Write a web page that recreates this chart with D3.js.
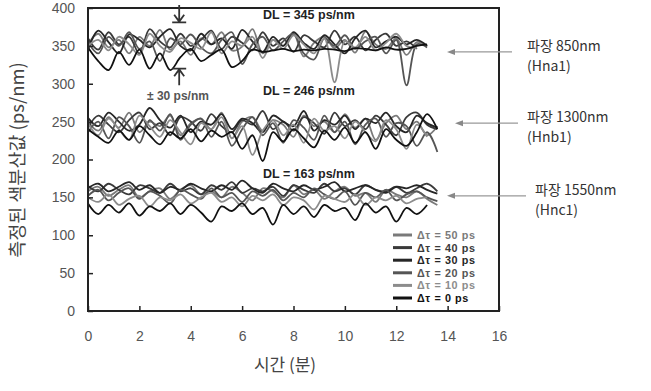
<!DOCTYPE html>
<html>
<head>
<meta charset="utf-8">
<script src="https://cdn.jsdelivr.net/npm/d3@7"></script>
<style>
  body { margin: 0; background: #fff; }
  svg { display: block; }
  .tick text { font-family: "Liberation Sans", Arial, sans-serif; font-size: 14px; fill: #555; }
  .kr { font-family: "Noto Sans CJK KR", sans-serif; }
</style>
</head>
<body>
<div id="chart"></div>
<script>
// time axis (minutes) for each band
const timeA = [0,0.4,0.8,1.2,1.6,2,2.4,2.8,3.2,3.6,4,4.4,4.8,5.2,5.6,6,6.4,6.8,7.2,7.6,8,8.4,8.8,9.2,9.6,10,10.4,10.8,11.2,11.6,12,12.4,12.8,13.2];
const timeB = [0,0.4,0.8,1.2,1.6,2,2.4,2.8,3.2,3.6,4,4.4,4.8,5.2,5.6,6,6.4,6.8,7.2,7.6,8,8.4,8.8,9.2,9.6,10,10.4,10.8,11.2,11.6,12,12.4,12.8,13.2,13.6];
const timeC = timeB;

const legendLabels = ["Δτ = 50 ps", "Δτ = 40 ps", "Δτ = 30 ps", "Δτ = 20 ps", "Δτ = 10 ps", "Δτ = 0 ps"];
const seriesColors = ["#7a7a7a", "#3a3a3a", "#262626", "#555555", "#8c8c8c", "#111111"];

// 850 nm (Hna1), DL = 345 ps/nm
const hna50 = [352,366,348,358,340,362,350,371,345,356,338,360,352,368,344,349,372,340,358,350,366,336,354,362,347,358,341,369,352,346,360,338,355,350];
const hna40 = [360,345,368,352,362,340,372,356,348,366,350,358,370,346,362,354,344,368,350,360,342,364,356,348,370,352,362,344,358,366,350,356,346];
const hna30 = [345,370,355,340,365,358,348,362,372,350,344,366,352,360,346,371,356,342,362,350,368,354,346,364,352,340,360,370,348,356,362,352,358,350];
const hna20 = [355,340,362,350,368,346,356,330,360,352,365,348,340,358,368,326,352,362,344,356,366,340,332,360,350,364,346,356,362,340,358,298,352,348];
const hna10 = [350,358,344,362,352,338,366,350,342,360,354,346,368,340,356,350,362,334,358,346,364,352,340,360,302,356,348,362,344,354,366,350,347];
const hna0  = [348,330,318,342,325,345,320,340,318,335,346,330,338,345,322,330,345,342,344,346,343,345,344,346,345,343,347,346,344,348,345,346,350,352];

// 1300 nm (Hnb1), DL = 246 ps/nm
const hnb50 = [250,238,256,242,262,236,250,244,258,232,248,254,240,262,228,250,256,238,252,246,230,258,244,250,236,260,242,254,226,248,258,240,250,232,244];
const hnb40 = [242,258,246,236,252,262,240,248,232,256,250,238,260,244,236,252,246,264,240,250,238,256,248,234,262,244,252,240,258,246,232,256,262,246,240];
const hnb30 = [255,244,262,250,238,246,268,252,242,258,236,250,246,260,240,254,248,236,258,250,244,264,238,252,246,258,240,254,248,262,244,236,258,248,242];
const hnb20 = [236,250,228,256,244,222,252,238,260,226,246,254,230,250,218,240,256,232,248,222,252,242,226,258,236,250,220,246,254,230,248,244,218,236,210];
const hnb10 = [248,232,254,240,226,258,244,230,252,236,220,248,240,256,228,244,206,238,252,232,246,222,254,238,244,228,250,236,224,252,240,214,246,230];
const hnb0  = [240,230,222,238,226,244,232,220,236,228,240,224,238,230,236,214,232,198,236,224,240,228,216,238,226,242,222,236,214,240,226,218,236,260,240];

// 1550 nm (Hnc1), DL = 163 ps/nm
const hnc50 = [158,164,152,160,166,150,158,162,148,160,166,154,158,150,164,156,146,162,158,150,166,154,160,148,158,164,152,156,144,160,154,150,158,148,140];
const hnc40 = [165,158,168,160,154,166,162,156,168,158,162,154,166,160,170,156,162,158,164,152,166,160,156,168,158,162,154,166,160,158,164,156,162,168,158];
const hnc30 = [162,168,158,164,170,160,166,156,164,160,168,162,158,166,160,172,162,156,168,162,158,166,160,164,170,158,162,166,160,156,164,162,166,160,155];
const hnc20 = [152,160,146,156,162,148,158,152,142,160,154,148,162,150,156,144,158,152,160,146,156,150,162,154,148,158,140,156,150,160,146,154,158,150,145];
const hnc10 = [150,144,154,140,148,152,138,150,146,154,142,150,156,144,150,138,152,146,154,140,150,146,134,152,148,144,154,140,150,146,152,142,148,150];
const hnc0  = [142,128,140,130,142,126,138,132,142,128,140,130,118,138,132,142,128,136,114,140,128,138,124,140,132,136,120,142,130,138,118,136,128,140];

const bands = [
  { time: timeA, series: [hna50, hna40, hna30, hna20, hna10, hna0] },
  { time: timeB, series: [hnb50, hnb40, hnb30, hnb20, hnb10, hnb0] },
  { time: timeC, series: [hnc50, hnc40, hnc30, hnc20, hnc10, hnc0] }
];

const dlLabels = [
  { text: "DL = 345 ps/nm", y: 385 },
  { text: "DL = 246 ps/nm", y: 285 },
  { text: "DL = 163 ps/nm", y: 176 }
];
const waveLabels = [
  { name: "파장 850nm", code: "(Hna1)", y: 342, dx: 0 },
  { name: "파장 1300nm", code: "(Hnb1)", y: 248, dx: 0 },
  { name: "파장 1550nm", code: "(Hnc1)", y: 152, dx: 8 }
];

const W = 651, H = 391;
const margin = { left: 88, right: 152, top: 8, bottom: 80 };

const svg = d3.select("#chart").append("svg")
  .attr("width", W).attr("height", H);

const x = d3.scaleLinear().domain([0, 16]).range([margin.left, W - margin.right]);
const y = d3.scaleLinear().domain([0, 400]).range([H - margin.bottom, margin.top]);

// lines
const line = d3.line().curve(d3.curveCatmullRom.alpha(0.5));
bands.forEach(b => {
  b.series.forEach((vals, i) => {
    svg.append("path")
      .attr("d", line(vals.map((v, j) => [x(b.time[j]), y(v)])))
      .attr("fill", "none")
      .attr("stroke", seriesColors[i])
      .attr("stroke-width", 1.8)
      .attr("stroke-linejoin", "round");
  });
});

// axes
svg.append("g")
  .attr("transform", "translate(" + margin.left + ",0)")
  .call(d3.axisLeft(y).tickValues(d3.range(0, 401, 50)).tickSizeInner(-5).tickSizeOuter(0).tickPadding(13))
  .call(g => g.select(".domain").remove())
  .call(g => g.selectAll(".tick line").attr("stroke", "#222").attr("stroke-width", 1.5));

svg.append("g")
  .attr("transform", "translate(0," + y(0) + ")")
  .call(d3.axisBottom(x).tickValues(d3.range(0, 17, 2)).tickSizeInner(-5).tickSizeOuter(0).tickPadding(20))
  .call(g => g.select(".domain").remove())
  .call(g => g.selectAll(".tick line").attr("stroke", "#222").attr("stroke-width", 1.5));

// frame
svg.append("rect")
  .attr("x", x(0)).attr("y", y(400))
  .attr("width", x(16) - x(0)).attr("height", y(0) - y(400))
  .attr("fill", "none").attr("stroke", "#222").attr("stroke-width", 2);

// axis titles
svg.append("text").attr("class", "kr")
  .attr("transform", "translate(24," + 160 + ") rotate(-90)")
  .attr("text-anchor", "middle")
  .attr("font-size", 18.5).attr("fill", "#444")
  .text("측정된 색분산값 (ps/nm)");

svg.append("text").attr("class", "kr")
  .attr("x", 285).attr("y", 371)
  .attr("text-anchor", "middle")
  .attr("font-size", 17).attr("fill", "#444")
  .text("시간 (분)");

// DL labels
svg.selectAll(".dl").data(dlLabels).enter().append("text")
  .attr("x", x(8.6)).attr("y", d => y(d.y))
  .attr("text-anchor", "middle")
  .attr("font-family", "Liberation Sans, Arial, sans-serif")
  .attr("font-weight", "bold").attr("font-size", 12.5).attr("fill", "#222")
  .text(d => d.text);

// ±30 marker
const ax = x(3.55);
svg.append("path")
  .attr("d", "M" + ax + "," + y(404) + "V" + y(382) + "M" + (ax - 5) + "," + y(391) + "L" + ax + "," + y(382) + "L" + (ax + 5) + "," + y(391) +
        "M" + (ax - 7) + "," + y(381) + "H" + (ax + 7))
  .attr("fill", "none").attr("stroke", "#333").attr("stroke-width", 1.8);
svg.append("path")
  .attr("d", "M" + ax + "," + y(298) + "V" + y(319) + "M" + (ax - 5) + "," + y(310) + "L" + ax + "," + y(319) + "L" + (ax + 5) + "," + y(310) +
        "M" + (ax - 7) + "," + y(320) + "H" + (ax + 7))
  .attr("fill", "none").attr("stroke", "#333").attr("stroke-width", 1.8);
svg.append("text")
  .attr("x", 178).attr("y", y(278))
  .attr("text-anchor", "middle")
  .attr("font-family", "Liberation Sans, Arial, sans-serif")
  .attr("font-weight", "bold").attr("font-size", 12).attr("fill", "#555")
  .text("± 30 ps/nm");

// right-side labels with arrows
const arrowX = [[512, 447], [518, 455], [526, 447]];
waveLabels.forEach((d, i) => {
  const yy = y(d.y);
  svg.append("line")
    .attr("x1", arrowX[i][0]).attr("x2", arrowX[i][1] + 4)
    .attr("y1", yy).attr("y2", yy)
    .attr("stroke", "#999").attr("stroke-width", 1.2);
  svg.append("path")
    .attr("d", "M" + arrowX[i][1] + "," + yy + "l8,-3v6z")
    .attr("fill", "#888");
  svg.append("text").attr("class", "kr")
    .attr("x", 527 + d.dx).attr("y", yy - 1)
    .attr("font-size", 14).attr("fill", "#333")
    .text(d.name);
  svg.append("text").attr("class", "kr")
    .attr("x", 527 + d.dx).attr("y", yy + 19)
    .attr("font-size", 14).attr("fill", "#333")
    .text(d.code);
});

// legend
const lg = svg.append("g").attr("transform", "translate(393,235)");
legendLabels.forEach((t, i) => {
  const ly = i * 12.6;
  lg.append("line")
    .attr("x1", 0).attr("x2", 19).attr("y1", ly).attr("y2", ly)
    .attr("stroke", seriesColors[i]).attr("stroke-width", 3);
  lg.append("text")
    .attr("x", 24).attr("y", ly + 4)
    .attr("font-family", "Liberation Sans, Arial, sans-serif")
    .attr("font-weight", "bold").attr("font-size", 10.8)
    .attr("letter-spacing", 0.6)
    .attr("fill", seriesColors[i])
    .text(t);
});
</script>
</body>
</html>
